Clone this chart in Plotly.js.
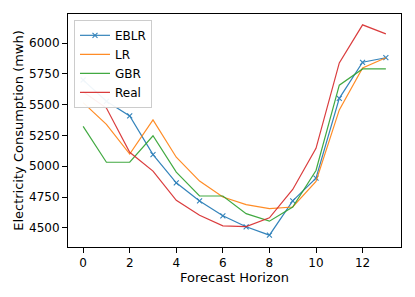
<!DOCTYPE html>
<html>
<head>
<meta charset="utf-8">
<script src="https://cdn.plot.ly/plotly-3.0.1.min.js"></script>
<style>html,body{margin:0;padding:0;background:#fff;}#chart{width:415px;height:297px;}</style>
</head>
<body>
<div id="chart"></div>
<script>
const horizon = [0,1,2,3,4,5,6,7,8,9,10,11,12,13];
const eblr = [5700,5527,5408,5094,4865,4718,4597,4508,4440,4718,4903,5551,5844,5881];
const lr   = [5516,5340,5099,5376,5073,4879,4750,4688,4656,4669,4876,5457,5798,5881];
const gbr  = [5323,5032,5032,5247,4952,4758,4758,4615,4554,4669,4965,5658,5790,5790];
const real = [5605,5472,5113,4960,4723,4602,4516,4510,4581,4811,5145,5839,6148,6075];
const seriesNames = ['EBLR','LR','GBR','Real'];
const colors = ['#1f77b4','#ff7f0e','#2ca02c','#d62728'];
const xTicks = [0,2,4,6,8,10,12];
const yTicks = [4500,4750,5000,5250,5500,5750,6000];

const font = {family:'DejaVu Sans, sans-serif', color:'#000'};
const allY = [eblr, lr, gbr, real];
const traces = allY.map((ys, i) => {
  const t = {
    x: horizon, y: ys, name: seriesNames[i], type:'scatter',
    mode: i === 0 ? 'lines+markers' : 'lines',
    line: {color: colors[i], width: 1.2},
    opacity: 0.9
  };
  if (i === 0) t.marker = {symbol:'x-thin-open', size:5, line:{color:colors[i], width:1.1}};
  return t;
});

const layout = {
  width: 415, height: 297,
  margin: {l:68, r:14, t:14, b:50},
  paper_bgcolor:'#fff', plot_bgcolor:'#fff',
  font: Object.assign({size:12}, font),
  showlegend: true,
  legend: {
    x: 0.018, y: 0.975, xanchor:'left', yanchor:'top',
    bgcolor:'rgba(255,255,255,0.93)', bordercolor:'#cccccc', borderwidth:1,
    font: Object.assign({size:12}, font),
    tracegroupgap: 0, itemwidth: 30
  },
  xaxis: {
    range: [-0.65, 13.65], tickvals: xTicks, ticktext: xTicks.map(String),
    showgrid:false, zeroline:false, showline:true, mirror:true,
    linecolor:'#000', linewidth:1, ticks:'outside', ticklen:5, tickcolor:'#000',
    tickfont: Object.assign({size:12}, font),
    title: {text:'Forecast Horizon', font: Object.assign({size:13}, font), standoff: 3}
  },
  yaxis: {
    range: [4344, 6236], tickvals: yTicks, ticktext: yTicks.map(String),
    showgrid:false, zeroline:false, showline:true, mirror:true,
    linecolor:'#000', linewidth:1, ticks:'outside', ticklen:5, tickcolor:'#000',
    tickfont: Object.assign({size:12}, font),
    title: {text:'Electricity Consumption (mwh)', font: Object.assign({size:13}, font), standoff: 2}
  }
};
Plotly.newPlot('chart', traces, layout, {displayModeBar:false, staticPlot:true});
</script>
</body>
</html>
